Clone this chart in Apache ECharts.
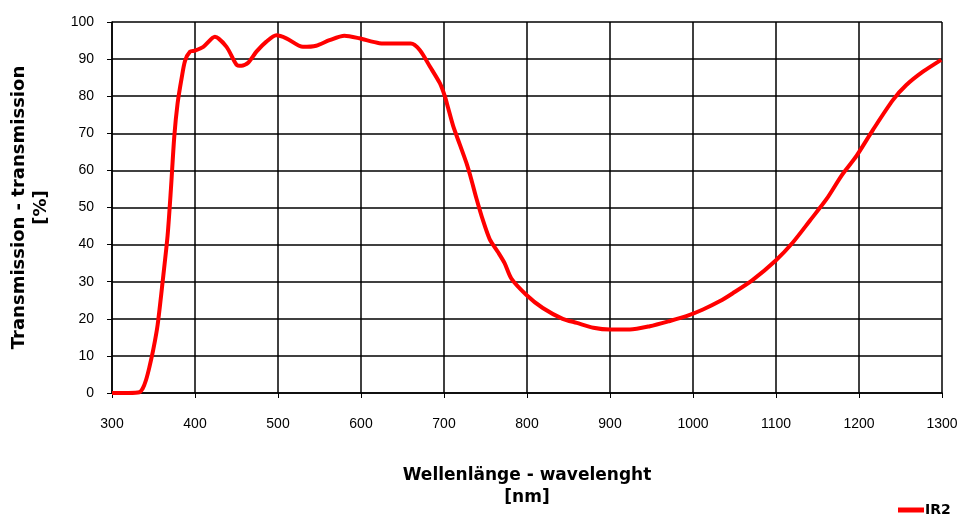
<!DOCTYPE html>
<html>
<head>
<meta charset="utf-8">
<script src="https://cdn.jsdelivr.net/npm/echarts@6/dist/echarts.min.js"></script>
<style>html,body{margin:0;padding:0;background:#fff;}#c{width:964px;height:514px;}</style>
</head>
<body>
<div id="c"></div>
<script>
const wavelengths = [300,320,333,337,341,345,350,355,361,367,371,375,379,384,388,394,400,410,424,438,450,456,464,474,486,498,510,530,546,562,580,598,622,640,660,671,683,695,701,705,711,719,727,733,739,747,755,765,773,781,799,819,843,860,880,900,924,948,972,992,1012,1032,1048,1072,1100,1120,1141,1161,1179,1197,1217,1241,1257,1277,1299];
const transmission = [0,0,0.2,1.2,3.5,6.9,12,18.4,30,42.5,55,69,78,85,89.5,92,92.3,93.3,96,93.3,88.5,88.2,89,92,94.7,96.4,95.6,93.3,93.6,95.1,96.3,95.6,94.3,94.2,94.2,92.4,88,83.5,80,76.8,72,67,62,57.5,52.5,46.5,41.5,38,35,30.9,26.5,22.9,20,18.9,17.6,17.1,17.1,18,19.4,20.7,22.5,24.7,26.9,30.5,35.8,40.5,46.5,52.3,58.6,63.9,71,79,83,86.6,89.8];
const seriesName = 'IR2';
const xTitle = 'Wellenlänge - wavelenght\n[nm]';
const yTitle = 'Transmission - transmission\n[%]';

const data = wavelengths.map((w, i) => [w, transmission[i]]);
const chart = echarts.init(document.getElementById('c'), null, {renderer: 'canvas'});
const labelFont = {color: '#000', fontFamily: 'Liberation Sans', fontSize: 14};
chart.setOption({
  animation: false,
  backgroundColor: '#fff',
  grid: {left: 112, right: 22, top: 22, bottom: 118},
  legend: {
    left: 893, top: 498,
    icon: 'rect', itemWidth: 26, itemHeight: 5, itemGap: 2,
    textStyle: {color: '#000', fontFamily: 'DejaVu Sans', fontWeight: 'bold', fontSize: 14, padding: [0,0,0,-4]},
    data: [seriesName]
  },
  xAxis: {
    type: 'value', min: 300, max: 1300, interval: 100,
    name: xTitle, nameLocation: 'middle', nameGap: 72,
    nameTextStyle: {color: '#000', fontFamily: 'DejaVu Sans', fontWeight: 'bold', fontSize: 17, lineHeight: 22},
    axisLine: {show: true, lineStyle: {color: '#000', width: 1.5}},
    axisTick: {show: true, length: 5, lineStyle: {color: '#000', width: 1}},
    axisLabel: Object.assign({margin: 24, formatter: v => String(v)}, labelFont),
    splitLine: {show: true, lineStyle: {color: '#000', width: 1.5}}
  },
  yAxis: {
    type: 'value', min: 0, max: 100, interval: 10,
    name: yTitle, nameLocation: 'middle', nameGap: 60, nameRotate: 90,
    nameTextStyle: {color: '#000', fontFamily: 'DejaVu Sans', fontWeight: 'bold', fontSize: 18, lineHeight: 22},
    axisLine: {show: true, lineStyle: {color: '#000', width: 1.5}},
    axisTick: {show: true, length: 5, lineStyle: {color: '#000', width: 1}},
    axisLabel: Object.assign({margin: 18, formatter: v => String(v)}, labelFont),
    splitLine: {show: true, lineStyle: {color: '#000', width: 1.5}}
  },
  series: [{
    name: seriesName, type: 'line', data: data,
    smooth: 0.25, showSymbol: false, symbol: 'none',
    lineStyle: {color: '#ff0000', width: 4},
    itemStyle: {color: '#ff0000'}
  }]
});
</script>
</body>
</html>
